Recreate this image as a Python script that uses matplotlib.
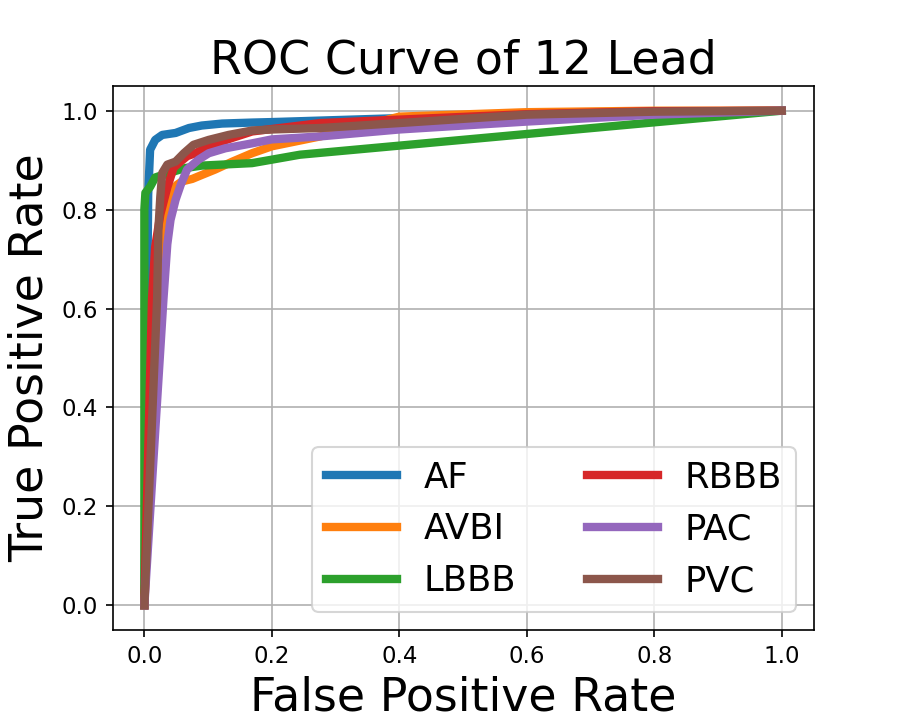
import matplotlib
matplotlib.use('Agg')
import matplotlib.pyplot as plt

labels = ['AF', 'AVBI', 'LBBB', 'RBBB', 'PAC', 'PVC']

af_fpr = [0, 0.006, 0.009, 0.017, 0.028, 0.049, 0.07, 0.09, 0.122, 0.169, 0.2, 0.4, 0.6, 0.8, 1.0]
af_tpr = [0, 0.83, 0.921, 0.941, 0.951, 0.955, 0.965, 0.970, 0.974, 0.976, 0.977, 0.985, 0.993, 0.998, 1.0]

avbi_fpr = [0, 0.02, 0.033, 0.041, 0.051, 0.059, 0.075, 0.09, 0.111, 0.138, 0.169, 0.2, 0.276, 0.4, 0.6, 0.8, 1.0]
avbi_tpr = [0, 0.62, 0.793, 0.834, 0.85, 0.857, 0.862, 0.87, 0.881, 0.897, 0.914, 0.928, 0.948, 0.988, 0.997, 1.0, 1.0]

lbbb_fpr = [0, 0.0, 0.0016, 0.009, 0.017, 0.038, 0.064, 0.09, 0.169, 0.2, 0.244, 1.0]
lbbb_tpr = [0, 0.80, 0.834, 0.846, 0.865, 0.874, 0.884, 0.889, 0.894, 0.901, 0.911, 1.0]

rbbb_fpr = [0, 0.012, 0.017, 0.025, 0.036, 0.046, 0.054, 0.067, 0.08, 0.106, 0.138, 0.169, 0.2, 0.276, 0.4, 0.6, 0.8, 1.0]
rbbb_tpr = [0, 0.62, 0.725, 0.79, 0.845, 0.885, 0.894, 0.908, 0.914, 0.931, 0.945, 0.958, 0.963, 0.975, 0.982, 0.993, 0.999, 1.0]

pac_fpr = [0, 0.03, 0.036, 0.041, 0.049, 0.057, 0.067, 0.085, 0.101, 0.127, 0.169, 0.2, 0.276, 0.4, 0.6, 0.8, 1.0]
pac_tpr = [0, 0.62, 0.73, 0.779, 0.82, 0.85, 0.881, 0.901, 0.914, 0.924, 0.934, 0.942, 0.948, 0.962, 0.978, 0.992, 1.0]

pvc_fpr = [0, 0.02, 0.022, 0.025, 0.028, 0.036, 0.049, 0.062, 0.077, 0.101, 0.132, 0.169, 0.2, 0.276, 0.4, 0.6, 0.8, 1.0]
pvc_tpr = [0, 0.62, 0.76, 0.826, 0.874, 0.891, 0.897, 0.914, 0.931, 0.941, 0.951, 0.960, 0.962, 0.965, 0.975, 0.992, 0.998, 1.0]

curves = [
    (af_fpr, af_tpr),
    (avbi_fpr, avbi_tpr),
    (lbbb_fpr, lbbb_tpr),
    (rbbb_fpr, rbbb_tpr),
    (pac_fpr, pac_tpr),
    (pvc_fpr, pvc_tpr),
]

fig = plt.figure(figsize=(6, 4.8), dpi=150)
ax = fig.add_axes([0.125, 0.125, 0.779, 0.7556])

for (fpr, tpr), name in zip(curves, labels):
    ax.plot(fpr, tpr, linewidth=4, label=name)

ax.set_xlim(-0.05, 1.05)
ax.set_ylim(-0.05, 1.05)
ax.set_xticks([0.0, 0.2, 0.4, 0.6, 0.8, 1.0])
ax.set_yticks([0.0, 0.2, 0.4, 0.6, 0.8, 1.0])
ax.tick_params(labelsize=11)
ax.grid(True)
ax.set_title('ROC Curve of 12 Lead', fontsize=22)
ax.set_xlabel('False Positive Rate', fontsize=22)
ax.set_ylabel('True Positive Rate', fontsize=22)
ax.legend(loc='lower right', ncol=2, fontsize=17, handlelength=2.0,
          handletextpad=0.75)

fig.savefig('out.png', dpi=150)
